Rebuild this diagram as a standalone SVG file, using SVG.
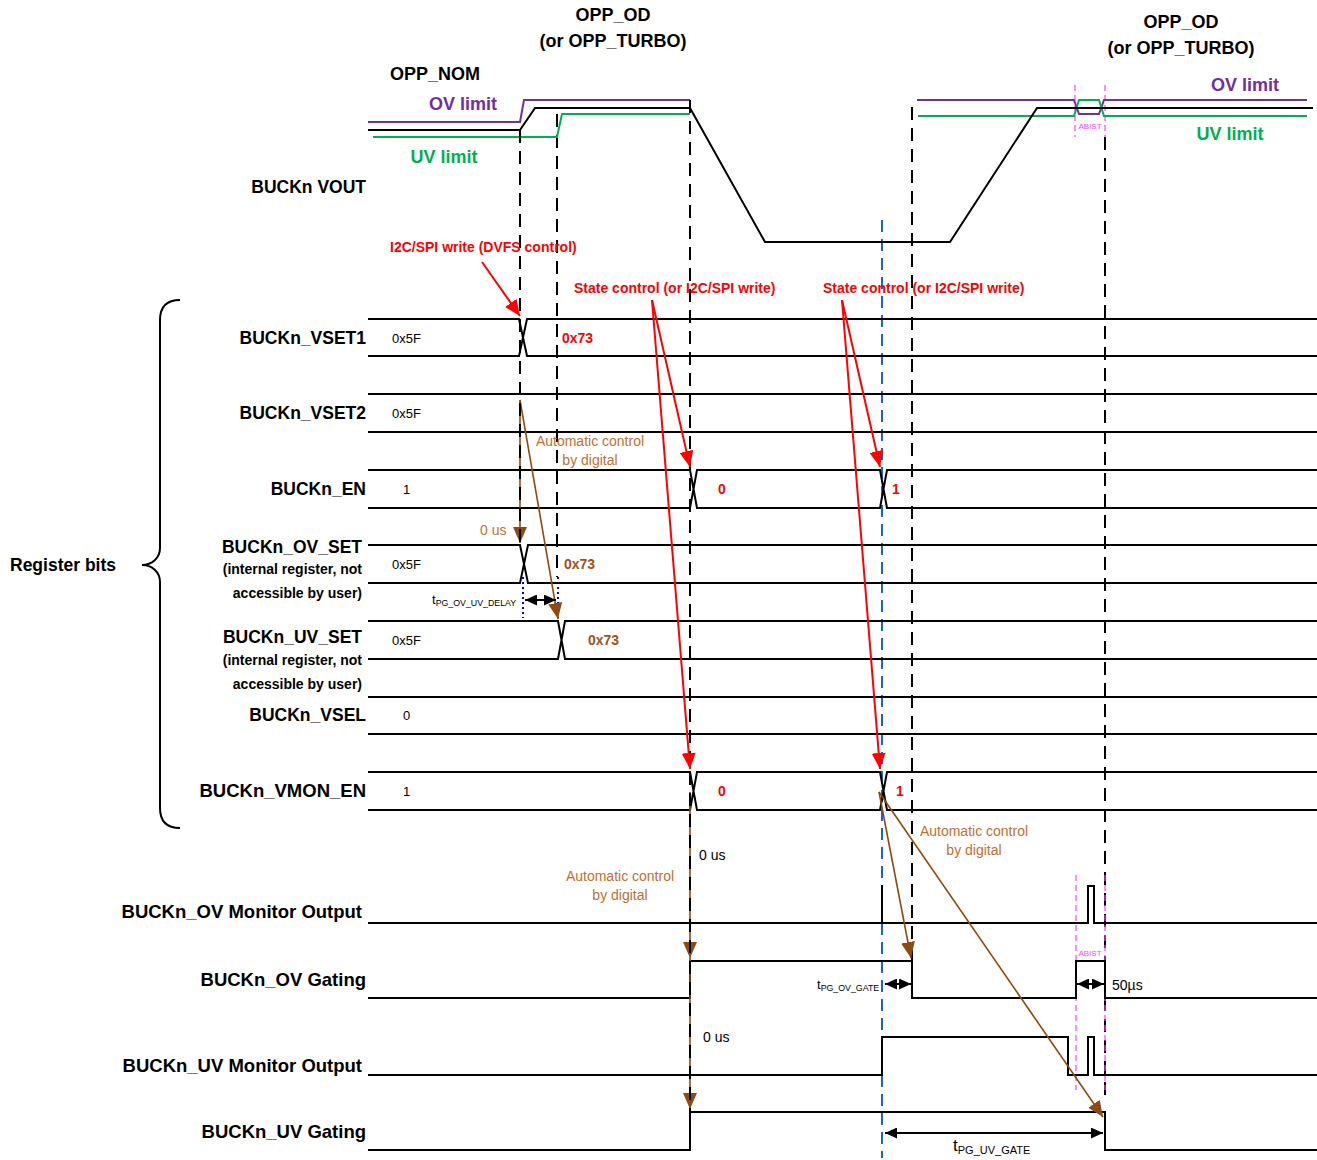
<svg xmlns="http://www.w3.org/2000/svg" width="1317" height="1160" viewBox="0 0 1317 1160">
<style>
text{font-family:"Liberation Sans",Arial,sans-serif}
.lbl{font-size:17.5px;font-weight:bold;fill:#000;text-anchor:end}
.lbw{font-size:18.5px;font-weight:bold;fill:#000;text-anchor:end}
.sub{font-size:14px;font-weight:bold;fill:#000;text-anchor:end}
.hd{font-size:18px;font-weight:bold;fill:#000;text-anchor:middle}
.val{font-size:13px;fill:#000}
.red{font-size:14px;font-weight:bold;fill:#f00}
.redv{font-size:14px;font-weight:bold;fill:#f00}
.brv{font-size:14px;font-weight:bold;fill:#a0521a}
.auto{font-size:14px;fill:#c07030;text-anchor:middle}
.sig{fill:none;stroke:#000;stroke-width:2}
.dash{fill:none;stroke:#000;stroke-width:2;stroke-dasharray:13 8}
.pink{fill:none;stroke:#ff40ff;stroke-width:1.2;stroke-dasharray:6 4}
.ra{fill:none;stroke:#f00;stroke-width:2;marker-end:url(#mr)}
.ba{fill:none;stroke:#8e4b10;stroke-width:1.6;marker-end:url(#mb)}
.da{fill:none;stroke:#000;stroke-width:2;marker-start:url(#mk);marker-end:url(#mk)}
</style>
<defs>
<marker id="mr" viewBox="0 0 16 14" refX="16" refY="7" markerWidth="16" markerHeight="14" markerUnits="userSpaceOnUse" orient="auto"><path d="M0,0 L16,7 L0,14 z" fill="#f00"/></marker>
<marker id="mb" viewBox="0 0 16 14" refX="16" refY="7" markerWidth="16" markerHeight="14" markerUnits="userSpaceOnUse" orient="auto"><path d="M0,0 L16,7 L0,14 z" fill="#8e4b10"/></marker>
<marker id="mk" viewBox="0 0 12 11" refX="12" refY="5.5" markerWidth="12" markerHeight="11" markerUnits="userSpaceOnUse" orient="auto-start-reverse"><path d="M0,0 L12,5.5 L0,11 z" fill="#000"/></marker>
</defs>
<rect width="1317" height="1160" fill="#fff"/>

<g id="headers">
<text class="hd" x="613" y="21">OPP_OD</text>
<text class="hd" x="613" y="47">(or OPP_TURBO)</text>
<text class="hd" x="435" y="80">OPP_NOM</text>
<text class="hd" x="1181" y="28">OPP_OD</text>
<text class="hd" x="1181" y="54">(or OPP_TURBO)</text>
<text x="463" y="110" style="font-size:18px;font-weight:bold;fill:#7030a0;text-anchor:middle">OV limit</text>
<text x="1245" y="91" style="font-size:18px;font-weight:bold;fill:#7030a0;text-anchor:middle">OV limit</text>
<text x="444" y="163" style="font-size:18px;font-weight:bold;fill:#00b050;text-anchor:middle">UV limit</text>
<text x="1230" y="140" style="font-size:18px;font-weight:bold;fill:#00b050;text-anchor:middle">UV limit</text>
</g>

<g id="guides">
<path class="dash" d="M557,114 V577 M912,107 V962 M1105,137 V1100"/>
<path d="M882,220 V1158" fill="none" stroke="#0050e0" stroke-width="1.8" stroke-dasharray="12 7"/>
<path d="M523,577 V618 M558,577 V618" fill="none" stroke="#0000ff" stroke-width="2" stroke-dasharray="2 3"/>
<path class="pink" d="M1075,85 V137 M1105,85 V137 M1076,875 V1090 M1105,875 V1090"/>
</g>

<g id="vout">
<text class="lbl" x="366" y="193">BUCKn VOUT</text>
<path d="M368,122 H520 L524,100 H690" fill="none" stroke="#7030a0" stroke-width="2"/>
<path d="M373,137 H557 L562,114 H690" fill="none" stroke="#00b050" stroke-width="2"/>
<path d="M917,100 H1074 L1079,114 H1099 L1104,100 H1307" fill="none" stroke="#7030a0" stroke-width="2"/>
<path d="M918,116 H1074 L1079,100 H1099 L1104,116 H1307" fill="none" stroke="#00b050" stroke-width="2"/>
<path class="sig" d="M368,130 H520 L535,108 H690 L765,242 H950 L1037,108 H1313"/>
<text x="1090" y="129" style="font-size:8px;fill:#ff40ff;text-anchor:middle">ABIST</text>
</g>

<g id="register-bits">
<path d="M180,300 C166,300 160,308 160,320 V548 C160,558 152,565 142,565 C152,565 160,572 160,582 V808 C160,820 166,828 180,828" fill="none" stroke="#000" stroke-width="2"/>
<text x="10" y="571" style="font-size:17.5px;font-weight:bold;fill:#000">Register bits</text>
</g>

<g id="vset1">
<text class="lbl" x="366" y="344">BUCKn_VSET1</text>
<path class="sig" d="M368,319 H519 L527,356 H1317 M368,356 H519 L527,319 H1317"/>
<text class="val" x="392" y="343">0x5F</text>
<text class="redv" x="562" y="343">0x73</text>
</g>

<g id="vset2">
<text class="lbl" x="366" y="419">BUCKn_VSET2</text>
<path class="sig" d="M368,394 H1317 M368,432 H1317"/>
<text class="val" x="392" y="418">0x5F</text>
</g>

<g id="en">
<text class="lbl" x="366" y="495">BUCKn_EN</text>
<path class="sig" d="M368,470 H690 L697,508 H880 L887,470 H1317 M368,508 H690 L697,470 H880 L887,508 H1317"/>
<text class="val" x="403" y="494">1</text>
<text class="redv" x="718" y="494">0</text>
<text class="redv" x="892" y="494">1</text>
</g>

<g id="ov-set">
<text class="lbl" x="362" y="553">BUCKn_OV_SET</text>
<text class="sub" x="362" y="574">(internal register, not</text>
<text class="sub" x="362" y="598">accessible by user)</text>
<path class="sig" d="M368,545 H520 L528,583 H1317 M368,583 H520 L528,545 H1317"/>
<text class="val" x="392" y="569">0x5F</text>
<text class="brv" x="564" y="569">0x73</text>
</g>

<g id="uv-set">
<text class="lbl" x="362" y="643">BUCKn_UV_SET</text>
<text class="sub" x="362" y="665">(internal register, not</text>
<text class="sub" x="362" y="689">accessible by user)</text>
<path class="sig" d="M368,621 H558 L565,659 H1317 M368,659 H558 L565,621 H1317"/>
<text class="val" x="392" y="645">0x5F</text>
<text class="brv" x="588" y="645">0x73</text>
</g>

<g id="vsel">
<text class="lbl" x="366" y="721">BUCKn_VSEL</text>
<path class="sig" d="M368,697 H1317 M368,734 H1317"/>
<text class="val" x="403" y="720">0</text>
</g>

<g id="vmon-en">
<text class="lbw" x="366" y="797">BUCKn_VMON_EN</text>
<path class="sig" d="M368,772 H690 L697,810 H880 L887,772 H1317 M368,810 H690 L697,772 H880 L887,810 H1317"/>
<text class="val" x="403" y="796">1</text>
<text class="redv" x="718" y="796">0</text>
<text class="redv" x="896" y="796">1</text>
</g>

<g id="ov-monitor">
<text class="lbw" x="362" y="918">BUCKn_OV Monitor Output</text>
<path class="sig" d="M368,923 H1088 V886 H1094 V923 H1317 M882,885 V923"/>
</g>

<g id="ov-gating">
<text class="lbw" x="366" y="986">BUCKn_OV Gating</text>
<path class="sig" d="M368,998 H690 V961 H912 V998 H1076 V961 H1105 V998 H1317"/>
<text x="1090" y="956" style="font-size:8px;fill:#ff40ff;text-anchor:middle">ABIST</text>
</g>

<g id="uv-monitor">
<text class="lbw" x="362" y="1072">BUCKn_UV Monitor Output</text>
<path class="sig" d="M368,1075 H882 V1037 H1068 V1075 H1088 V1037 H1094 V1075 H1317"/>
</g>

<g id="uv-gating">
<text class="lbw" x="366" y="1138">BUCKn_UV Gating</text>
<path class="sig" d="M368,1150 H690 V1112 H1105 V1150 H1317"/>
</g>

<g id="connectors">
<path class="ba" d="M520,400 L520,543"/>
<path class="ba" d="M520,400 L558,619"/>
<path class="ba" d="M690,792 L690,958"/>
<path class="ba" d="M690,958 L690,1109"/>
<path class="ba" d="M879,792 L911,958"/>
<path class="ba" d="M879,792 L1103,1117"/>
<path class="dash" d="M520,130 V545 M690,100 V1150"/>
<path class="ra" d="M482,262 L520,316"/>
<path class="ra" d="M652,300 L690,467"/>
<path class="ra" d="M652,300 L690,769"/>
<path class="ra" d="M842,300 L880,467"/>
<path class="ra" d="M842,300 L880,769"/>
<path class="da" d="M525,600 H556"/>
<path class="da" d="M885,984 H911"/>
<path class="da" d="M1077,984 H1104"/>
<path class="da" d="M885,1133 H1103"/>
</g>

<g id="annotations">
<text class="red" x="390" y="252">I2C/SPI write (DVFS control)</text>
<text class="red" x="574" y="293">State control (or I2C/SPI write)</text>
<text class="red" x="823" y="293">State control (or I2C/SPI write)</text>
<text class="auto" x="590" y="446">Automatic control</text>
<text class="auto" x="590" y="465">by digital</text>
<text class="auto" x="620" y="881">Automatic control</text>
<text class="auto" x="620" y="900">by digital</text>
<text class="auto" x="974" y="836">Automatic control</text>
<text class="auto" x="974" y="855">by digital</text>
<text x="480" y="535" style="font-size:14px;fill:#c07030">0 us</text>
<text x="699" y="860" style="font-size:14px;fill:#000">0 us</text>
<text x="703" y="1042" style="font-size:14px;fill:#000">0 us</text>
<text x="432" y="604" style="font-size:13px;fill:#000">t<tspan style="font-size:8.8px" dy="2">PG_OV_UV_DELAY</tspan></text>
<text x="817" y="989" style="font-size:13px;fill:#000">t<tspan style="font-size:8.8px" dy="2">PG_OV_GATE</tspan></text>
<text x="1112" y="990" style="font-size:14px;fill:#000">50µs</text>
<text x="953" y="1151" style="font-size:17px;fill:#000">t<tspan style="font-size:11px" dy="3">PG_UV_GATE</tspan></text>
</g>
</svg>
